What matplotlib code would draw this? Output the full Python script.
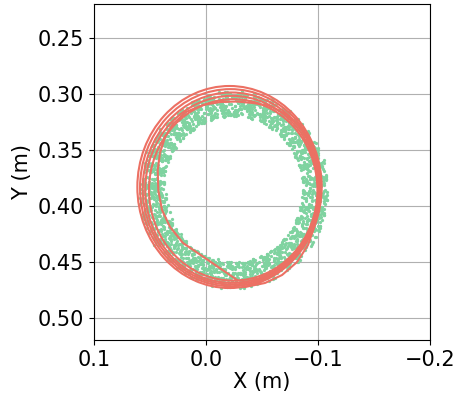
import numpy as np
import matplotlib
matplotlib.use("Agg")
import matplotlib.pyplot as plt
from matplotlib.patches import Ellipse

# ---- data (metres) ----
# red trajectory: first partial loop (inner), typed points
inner_x = [-0.0277, -0.0018, 0.0205, 0.0321, 0.0393, 0.0426, 0.0431, 0.0411,
           0.0366, 0.0295, 0.0179, 0.0027, -0.0125, -0.0277, -0.0420, -0.0571,
           -0.0723, -0.0839, -0.0920, -0.0973, -0.1000, -0.1000, -0.0973,
           -0.0911, -0.0813, -0.0679, -0.0527, -0.0348]
inner_y = [0.4664, 0.4486, 0.4334, 0.4191, 0.4039, 0.3861, 0.3682, 0.3530,
           0.3388, 0.3271, 0.3164, 0.3102, 0.3075, 0.3071, 0.3084, 0.3111,
           0.3191, 0.3298, 0.3423, 0.3593, 0.3816, 0.3995, 0.4173,
           0.4352, 0.4504, 0.4620, 0.4691, 0.4727]

# red trajectory: later loops, extents of each loop (left, right, top, bottom)
loop_left = [0.0613, 0.0589, 0.0565, 0.0542, 0.0509]
loop_right = [-0.1033, -0.1025, -0.1015, -0.1005, -0.0995]
loop_top = [0.2932, 0.2960, 0.2990, 0.3020, 0.3050]
loop_bottom = [0.4736, 0.4720, 0.4705, 0.4690, 0.4670]

# green measured points: ring centre, inner / outer edge of the band
ring_cx, ring_cy = -0.0243, 0.3855
ring_rx = (0.0585, 0.0850)
ring_ry = (0.0620, 0.0890)
# one string per 10 degree sector, each token "ARR":
# A = degree inside the sector, RR = position across the band (00 inner .. 99 outer)
ring_pts = [
    "015 372 548 163 827 431 294 656 709 538 181 365 842 227 619 453 976 344 088 521 735 262 407 689 914 553 136 378 871 246 595 428 063 712 357 984",
    "147 532 268 715 383 926 451 674 039 588 822 257 613 476 941 305 778 164 529 851 236 697 412 985 370 043 756 618 281 534 867 129 492 645 903 318",
    "263 518 741 086 395 624 857 132 479 916 344 581 028 763 259 437 882 615 174 348 956 521 093 687 432 275 719 864 153 506 341 928 687 240 571 812",
    "352 714 186 629 478 241 965 537 023 846 315 672 558 139 904 427 761 283 645 518 372 086 834 157 499 621 745 308 962 234 583 416 077 859 128 641",
    "428 165 837 542 216 693 374 951 608 247 785 132 469 926 351 714 053 588 276 841 437 629 112 975 364 520 843 188 657 431 926 275 514 063 789 346",
    "571 236 912 468 047 783 325 659 184 546 837 213 675 991 452 138 724 366 809 547 283 615 948 172 436 751 025 863 394 627 158 712 486 935 241 569",
    "634 187 452 926 315 768 541 083 879 256 613 497 138 742 955 326 684 211 573 849 462 037 795 358 126 681 914 447 269 536 873 142 718 395 051 627",
    "746 328 581 149 867 432 215 974 653 386 029 741 562 815 178 934 457 623 386 241 799 518 064 872 335 647 183 926 451 708 264 539 817 372 648 153",
    "859 243 617 472 138 935 364 781 526 047 893 265 714 438 952 176 629 347 584 811 236 973 452 118 765 381 647 924 553 219 786 435 068 827 341 692",
    "962 415 738 184 547 826 351 669 213 578 934 146 782 325 651 497 816 273 548 932 164 729 386 651 047 873 512 268 934 756 185 421 693 847 352 715",
    "087 524 369 712 948 235 651 473 816 129 584 337 962 745 218 693 451 876 324 567 139 982 415 758 273 646 831 194 528 367 712 955 483 621 246 879",
    "173 648 425 861 312 596 734 257 983 441 628 175 857 342 569 916 283 734 451 168 825 537 296 683 914 372 541 758 126 863 435 277 619 984 352 746",
    "258 731 546 914 283 467 825 152 639 378 871 524 216 743 358 982 447 685 129 561 834 273 748 315 596 862 147 423 789 651 236 574 918 341 665 827",
    "341 869 627 153 485 742 216 598 834 467 952 329 671 145 783 528 264 817 396 652 438 781 124 569 847 356 612 938 275 713 484 159 846 527 363 792",
    "432 957 718 246 563 821 374 645 189 736 514 283 947 662 328 851 476 735 213 598 864 347 125 679 942 516 381 754 228 895 463 617 832 155 579 386",
    "524 796 863 315 648 947 182 573 736 421 895 264 667 338 713 954 521 482 846 193 357 678 926 245 581 892 414 763 537 196 848 362 725 597 473 651",
    "617 882 354 938 471 726 163 585 847 293 632 975 418 756 281 543 864 327 692 915 176 458 733 564 821 945 386 612 479 253 786 337 596 868 142 594",
    "743 918 261 584 836 172 495 723 657 388 914 246 571 835 692 473 126 757 984 318 545 869 632 287 713 496 851 374 937 565 228 683 412 795 356 881",
    "826 454 693 137 782 568 921 345 618 876 253 794 437 582 967 614 383 739 248 856 572 691 325 962 484 751 137 686 893 529 275 847 364 914 653 738",
    "953 637 728 286 841 515 364 977 632 189 745 563 828 372 694 456 917 234 583 861 718 345 952 627 486 834 263 571 798 342 686 915 437 762 581 874",
    "034 867 492 735 168 581 926 253 714 648 375 893 527 186 762 433 954 612 287 845 569 326 738 991 454 613 875 247 382 594 818 146 673 935 526 768",
    "156 733 582 914 267 648 325 871 479 156 936 542 717 384 691 823 265 548 912 376 634 781 453 927 168 585 346 862 714 239 592 875 428 653 317 946",
    "247 682 315 839 574 126 963 452 718 385 564 837 291 649 176 923 436 758 582 264 817 345 693 928 471 156 734 562 387 853 614 277 945 428 863 531",
    "325 861 643 278 917 564 432 786 159 624 853 317 765 481 238 976 552 614 395 827 168 743 536 284 912 457 681 325 864 573 147 928 356 785 443 612",
    "418 745 267 593 836 352 684 127 971 548 263 816 435 762 584 139 872 343 627 958 481 214 765 536 382 847 623 165 934 476 752 288 617 843 535 964",
    "562 937 475 132 681 854 323 749 516 284 867 635 158 942 427 763 385 671 234 815 552 946 183 728 364 657 841 412 575 936 263 784 327 618 952 443",
    "635 274 818 456 923 567 142 781 365 634 486 914 273 657 832 348 726 564 917 283 635 452 867 321 763 548 926 184 437 875 616 352 784 243 561 827",
    "751 483 326 867 594 218 945 637 472 813 565 284 926 743 351 684 217 858 432 576 963 325 784 647 138 815 472 936 563 284 727 645 318 853 492 176",
    "846 325 673 418 752 984 237 561 826 345 674 913 482 267 735 158 592 846 374 623 817 546 283 935 764 452 618 381 845 723 264 957 576 432 688 315",
    "924 576 243 681 835 462 717 358 584 926 241 673 845 327 968 512 436 781 653 286 741 827 365 518 943 676 282 734 416 568 853 327 692 175 844 631",
    "061 748 536 925 374 612 863 487 245 756 933 568 182 634 475 817 354 926 563 787 218 645 476 832 557 329 746 864 413 675 927 238 584 361 715 853",
    "183 456 727 362 614 845 236 973 558 418 762 637 325 846 974 563 218 745 382 654 826 473 936 564 742 287 613 845 528 362 784 917 453 676 243 835",
    "272 853 364 736 517 948 623 485 826 375 654 293 817 536 168 748 473 625 983 346 752 564 387 836 625 473 918 258 746 582 834 367 613 955 427 684",
    "354 627 816 573 244 763 938 452 675 827 386 513 764 282 945 618 437 856 563 724 285 936 472 618 853 534 746 267 981 346 625 873 518 746 262 895",
    "465 738 254 916 683 347 572 864 426 735 584 863 217 652 936 478 723 564 345 872 616 453 827 736 364 582 947 723 486 655 318 874 532 764 283 946",
    "527 684 943 356 872 415 768 636 583 924 347 856 675 238 514 967 482 753 626 884 365 742 516 838 273 947 654 426 785 563 832 418 676 954 342 758",
]
# second pass of points, same sectors but sitting half a degree further on
ring_pts_b = [
    "436 821 157 649 372 915 584 263 708 431 896 147 352 675 918 224 563 789 041 637 282 954 419 768",
    "528 163 847 372 691 234 956 418 075 582 327 864 145 793 436 658 219 981 364 527 842 176 635 493",
    "619 354 782 126 843 567 231 975 448 713 186 524 867 342 695 138 754 421 982 256 573 817 364 645",
    "742 186 538 963 257 614 825 372 149 586 731 258 964 415 673 827 134 562 385 916 243 758 671 329",
    "853 427 164 785 316 952 548 273 631 184 827 465 352 976 518 243 784 615 137 568 924 381 746 215",
    "964 512 386 847 173 625 938 254 417 763 586 132 845 367 629 471 856 213 584 932 167 745 328 681",
    "075 638 214 869 543 176 752 328 984 461 237 685 912 354 786 143 527 864 236 671 415 948 582 327",
    "186 743 527 354 918 462 685 137 849 572 314 963 246 781 458 625 379 816 564 243 927 518 682 435",
    "297 864 413 586 732 165 948 523 376 612 857 274 931 453 618 786 142 567 825 384 671 236 954 718",
    "318 572 846 263 697 824 135 768 452 917 346 583 762 128 854 471 936 215 683 547 872 364 428 963",
    "429 615 782 348 156 873 542 965 217 634 781 356 493 827 165 582 748 324 961 473 215 686 537 852",
    "532 867 143 724 586 312 958 475 621 186 743 568 832 274 697 415 863 537 246 918 354 781 425 676",
    "645 213 876 534 927 368 615 782 143 856 472 937 264 518 785 346 692 158 827 463 581 734 917 352",
    "756 482 318 963 645 127 584 836 372 615 948 263 735 487 126 852 413 676 538 294 864 317 752 483",
    "867 534 926 172 438 785 643 251 817 564 382 916 647 235 973 518 784 346 695 127 853 568 436 971",
    "978 613 465 827 354 936 512 786 248 693 875 437 163 592 826 374 957 615 482 768 336 924 583 717",
    "089 756 324 968 573 846 165 637 892 415 587 783 264 946 538 672 315 857 426 983 745 516 676 938",
    "192 847 565 326 986 674 438 753 915 582 246 867 734 491 657 963 586 274 835 617 948 372 726 895",
    "284 936 617 758 432 895 564 672 347 918 785 436 593 976 628 354 842 716 567 939 453 784 626 867",
    "375 763 948 524 867 642 386 915 758 437 693 856 274 538 982 716 467 835 594 372 957 648 826 583",
    "462 584 839 316 745 973 528 864 417 682 956 364 843 527 756 238 916 645 372 854 527 783 467 925",
    "543 827 462 985 636 354 717 573 846 264 935 616 483 758 342 874 586 163 728 957 425 693 844 376",
    "634 375 786 523 942 617 358 826 574 936 283 758 645 417 863 524 976 382 614 847 562 735 928 456",
    "715 948 563 836 427 762 584 647 928 365 816 473 754 528 942 386 665 837 253 574 816 462 937 684",
    "826 467 734 358 875 596 642 983 426 768 537 864 315 657 886 423 758 564 936 745 382 617 853 528",
    "937 625 846 574 363 958 726 485 867 643 376 528 964 736 514 847 632 268 795 576 853 427 686 934",
    "048 783 567 832 496 674 358 926 615 847 763 436 582 974 657 325 846 713 564 386 927 658 475 816",
    "153 426 894 637 765 548 863 672 387 956 524 845 736 418 683 974 562 837 475 726 364 583 947 615",
    "264 857 673 346 968 736 485 527 864 617 953 584 372 856 648 267 935 713 542 876 638 456 782 563",
    "375 614 847 563 726 482 938 653 574 836 415 762 948 526 387 864 632 475 918 754 363 827 586 946",
    "486 763 528 945 674 837 364 856 417 682 784 536 623 968 745 382 576 814 657 463 937 575 846 726",
    "537 846 672 384 963 525 758 637 864 473 916 685 457 736 584 926 344 765 826 563 678 847 425 953",
    "648 537 875 762 436 964 683 528 747 856 374 526 863 645 976 453 786 617 538 862 426 754 983 674",
    "759 683 426 857 565 738 946 473 864 627 583 936 745 318 657 874 536 982 663 435 876 546 724 837",
    "864 356 783 625 947 574 836 652 478 925 766 437 864 583 626 945 376 754 517 863 642 985 758 426",
    "975 836 564 742 386 865 628 947 753 514 876 637 346 926 784 563 857 425 684 937 542 768 634 873",
]

x_ticks = [0.1, 0.0, -0.1, -0.2]
y_ticks = [0.25, 0.30, 0.35, 0.40, 0.45, 0.50]

GREEN = "#7fd3a0"
RED = "#ec7063"

# decode the ring points
pts_x, pts_y = [], []
for rows, shift in ((ring_pts, 0.0), (ring_pts_b, 0.5)):
    for k, row in enumerate(rows):
        for tok in row.split():
            ang = np.radians(10 * k + int(tok[0]) + shift)
            t = int(tok[1:]) / 99.0
            rx = ring_rx[0] + t * (ring_rx[1] - ring_rx[0])
            ry = ring_ry[0] + t * (ring_ry[1] - ring_ry[0])
            pts_x.append(ring_cx + rx * np.cos(ang))
            pts_y.append(ring_cy + ry * np.sin(ang))

plt.rcParams["font.size"] = 15
fig = plt.figure(figsize=(4.59, 3.97), dpi=100)
ax = fig.add_axes([0.2048, 0.1436, 0.732, 0.8463])

ax.scatter(pts_x, pts_y, s=5.5, color=GREEN, linewidths=0, zorder=2)

for l, r, t, b in zip(loop_left, loop_right, loop_top, loop_bottom):
    e = Ellipse(((l + r) / 2, (t + b) / 2), l - r, b - t, fill=False,
                edgecolor=RED, linewidth=1.5, zorder=3)
    ax.add_patch(e)
ax.plot(inner_x, inner_y, color=RED, linewidth=1.5, zorder=3)

ax.set_xlim(0.1, -0.2)
ax.set_ylim(0.52, 0.22)
ax.set_xticks(x_ticks)
ax.set_yticks(y_ticks)
ax.set_yticklabels(["%.2f" % v for v in y_ticks])
ax.grid(True, color="#b0b0b0", linewidth=0.8)
ax.set_xlabel("X (m)", labelpad=2)
ax.set_ylabel("Y (m)", labelpad=4)

fig.savefig("out.png", dpi=100)
